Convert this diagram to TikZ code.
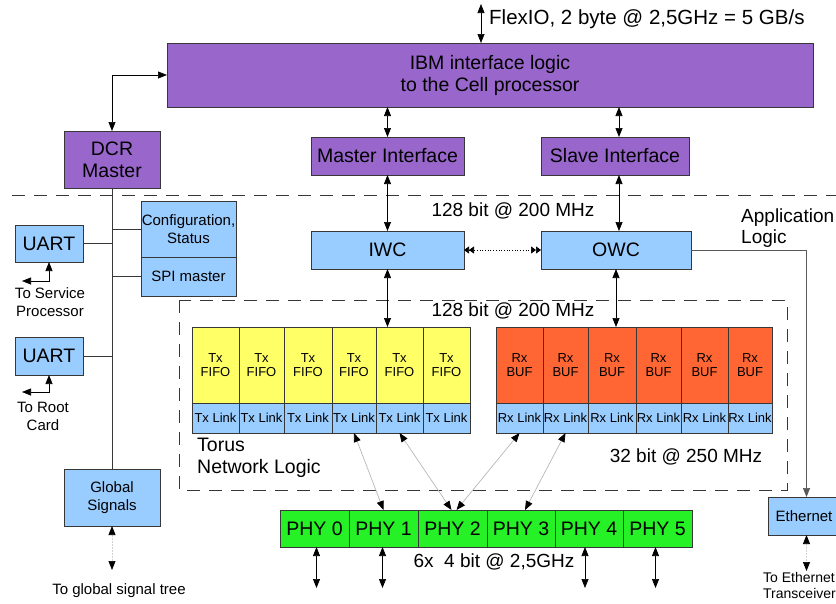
\documentclass[tikz,border=0pt]{standalone}
\usepackage{fontspec}
\setmainfont{Liberation Sans}
\usetikzlibrary{arrows.meta}
\definecolor{purp}{RGB}{153,102,204}
\definecolor{lblue}{RGB}{153,204,255}
\definecolor{yel}{RGB}{255,255,102}
\definecolor{org}{RGB}{255,102,51}
\definecolor{grn}{RGB}{38,240,38}
\definecolor{bord}{RGB}{55,55,55}
\begin{document}
\begin{tikzpicture}[x=1pt,y=-1pt,
  box/.style={draw=bord, line width=0.8pt, inner sep=0pt, outer sep=0pt, align=center},
  corners/.style n args={4}{at={({(#1+#3)/2},{(#2+#4)/2})}, minimum width={(#3-#1)*1pt}, minimum height={(#4-#2)*1pt}},
  pbox/.style={box, fill=purp},
  bbox/.style={box, fill=lblue},
  fbig/.style={font=\fontsize{19.5}{22}\selectfont},
  fmid/.style={font=\fontsize{19}{21}\selectfont},
  fsm/.style={font=\fontsize{15}{18}\selectfont},
  ftiny/.style={font=\fontsize{13}{14.5}\selectfont},
  lbl/.style={inner sep=0pt, align=center},
  dbl/.style={{Triangle[length=9pt,width=7pt]}-{Triangle[length=9pt,width=7pt]}, line width=0.7pt},
  gdbl/.style={{Triangle[length=9pt,width=7pt,color=black]}-{Triangle[length=9pt,width=7pt,color=black]}, line width=0.7pt, draw=gray!55},
  ddbl/.style={gdbl, draw=gray!35, dash pattern=on 2pt off 1pt},
  dbltwo/.style={{Triangle[length=5pt,width=7pt]Triangle[length=5pt,width=7pt]}-{Triangle[length=5pt,width=7pt]Triangle[length=5pt,width=7pt]}, dotted, line width=0.7pt},
  dashline/.style={draw=bord, line width=0.8pt, dash pattern=on 13pt off 9pt},
  wire/.style={draw=bord, line width=0.8pt}
]
\useasboundingbox (0,0) rectangle (836,603);
\fill[white] (0,0) rectangle (836,603);

% top
\node[pbox, fbig, corners={167}{43}{813}{107}] (ibm) {IBM interface logic\\to the Cell processor};
\coordinate (flex) at (481,4);
\draw[dbl] (flex) -- (flex |- ibm.north);
\node[lbl, font=\fontsize{20.5}{22}\selectfont, anchor=west] (flexlbl) at (489,19) {FlexIO, 2 byte @ 2,5GHz = 5 GB/s};

\node[pbox, fbig, corners={64}{131}{160}{188}] (dcr) {DCR\\Master};
\draw[dbl] (dcr.north) |- (ibm.west);

\node[pbox, fbig, corners={311}{137}{464}{175}] (mi) {Master Interface};
\node[pbox, fbig, corners={541}{137}{689}{175}] (si) {Slave Interface};
\draw[dbl] (mi.north |- ibm.south) -- (mi.north);
\draw[dbl] ([xshift=4pt]si.north |- ibm.south) -- ([xshift=4pt]si.north);

\draw[dashline] (12,195) -- (836,195);

\node[bbox, fbig, corners={311}{231}{464}{269}] (iwc) {IWC};
\node[bbox, fbig, corners={541}{231}{691}{269}] (owc) {OWC};
\draw[dbl] (mi.south) -- (iwc.north);
\draw[dbl] ([xshift=4pt]si.south) -- ([xshift=4pt]si.south |- owc.north);
\draw[dbltwo] (iwc.east) -- (owc.west);
\node[lbl, fmid] (lbl128a) at (513,211) {128 bit @ 200 MHz};
\node[lbl, fmid, anchor=north west, align=left] (applbl) at (741,209) {Application\\Logic};

% torus
\draw[dashline] (179,300) rectangle (787,490);
\node[lbl, fmid] (lbl128b) at (513,311) {128 bit @ 200 MHz};
\foreach \i/\a/\b in {0/192/239,1/239/284,2/284/332,3/332/376,4/376/423,5/423/470}{
  \node[box, fill=yel, ftiny, corners={\a}{327}{\b}{403}] (tx\i) {Tx\\FIFO};
  \node[bbox, ftiny, corners={\a}{403}{\b}{433}] (txl\i) {Tx Link};
}
\foreach \i/\a/\b in {0/496/543,1/543/588,2/588/636,3/636/681,4/681/728,5/728/772}{
  \node[box, fill=org, ftiny, corners={\a}{327}{\b}{403}] (rx\i) {Rx\\BUF};
  \node[bbox, ftiny, corners={\a}{403}{\b}{433}] (rxl\i) {Rx Link};
}
\draw[dbl] (iwc.south) -- (iwc.south |- tx4.north);
\draw[dbl] (owc.south) -- (owc.south |- rx2.north);
\node[lbl, fbig, anchor=north west, align=left] (toruslbl) at (197,438) {Torus\\Network Logic};
\node[lbl, fmid] (lbl32) at (686,457) {32 bit @ 250 MHz};

% PHYs
\foreach \i/\a/\b in {0/280/349,1/349/418,2/418/487,3/487/555,4/555/623,5/623/692}{
  \node[box, fill=grn, fbig, corners={\a}{510}{\b}{547}] (phy\i) {PHY \i};
}
\node[lbl, fmid] (lbl6x) at (494,562) {6x\ \ 4 bit @ 2,5GHz};
\draw[gdbl] (txl3.south) -- (phy1.north);
\draw[gdbl] (txl4.south) -- ([xshift=-1pt]phy2.north);
\draw[gdbl] (rxl0.south) -- ([xshift=4pt]phy2.north);
\draw[gdbl] (rxl1.south) -- ([xshift=4pt]phy3.north);
\draw[dbl] ([xshift=2pt]phy0.south) -- ++(0,41);
\draw[dbl] ([xshift=-1pt]phy1.south) -- ++(0,41);
\draw[dbl] ([xshift=-4pt]phy4.south) -- ++(0,41);
\draw[dbl] ([xshift=-2pt]phy5.south) -- ++(0,41);

% Ethernet
\node[bbox, font=\fontsize{15}{18}\selectfont, corners={768}{497}{846}{535}] (eth) {Ethernet\hspace*{6pt}};
\draw[-{Triangle[length=9pt,width=7pt]}, line width=0.7pt, draw=gray!70!black] (owc.east) -| ([xshift=-0.5pt]eth.north);
\draw[ddbl] ([xshift=-0.5pt]eth.south) -- ++(0,36);
\node[lbl, font=\fontsize{14}{16.5}\selectfont, anchor=north west, align=left] (ethlbl) at (763,572) {To Ethernet\\Transceiver};

% left side
\node[bbox, fsm, corners={141}{201}{236}{257}] (cfg) {Configuration,\\Status};
\node[bbox, fsm, corners={141}{257}{236}{296}] (spi) {SPI master};
\node[bbox, fbig, corners={15}{225}{83}{262}] (u1) {UART};
\node[bbox, fbig, corners={15}{337}{83}{375}] (u2) {UART};
\node[bbox, font=\fontsize{15}{18}\selectfont, corners={64}{469}{160}{526}] (gs) {Global\\Signals};
\draw[wire] (dcr.south) -- (gs.north);
\draw[wire] (cfg.west) -- (cfg.west -| dcr.south);
\draw[wire] (spi.west) -- (spi.west -| dcr.south);
\draw[wire] (u1.east) -- (u1.east -| dcr.south);
\draw[wire] (u2.east) -- (u2.east -| dcr.south);
\draw[dbl] (u1.south) |- ++(-27,19);
\draw[dbl] (u2.south) |- ++(-27,17);
\node[lbl, fsm] (u1lbl) at (50,302) {To Service\\Processor};
\node[lbl, fsm] (u2lbl) at (43,416) {To Root\\Card};
\draw[ddbl] (gs.south) -- ++(0,44);
\node[lbl, fsm] (gslbl) at (119,591) {To global signal tree};
\end{tikzpicture}
\end{document}
